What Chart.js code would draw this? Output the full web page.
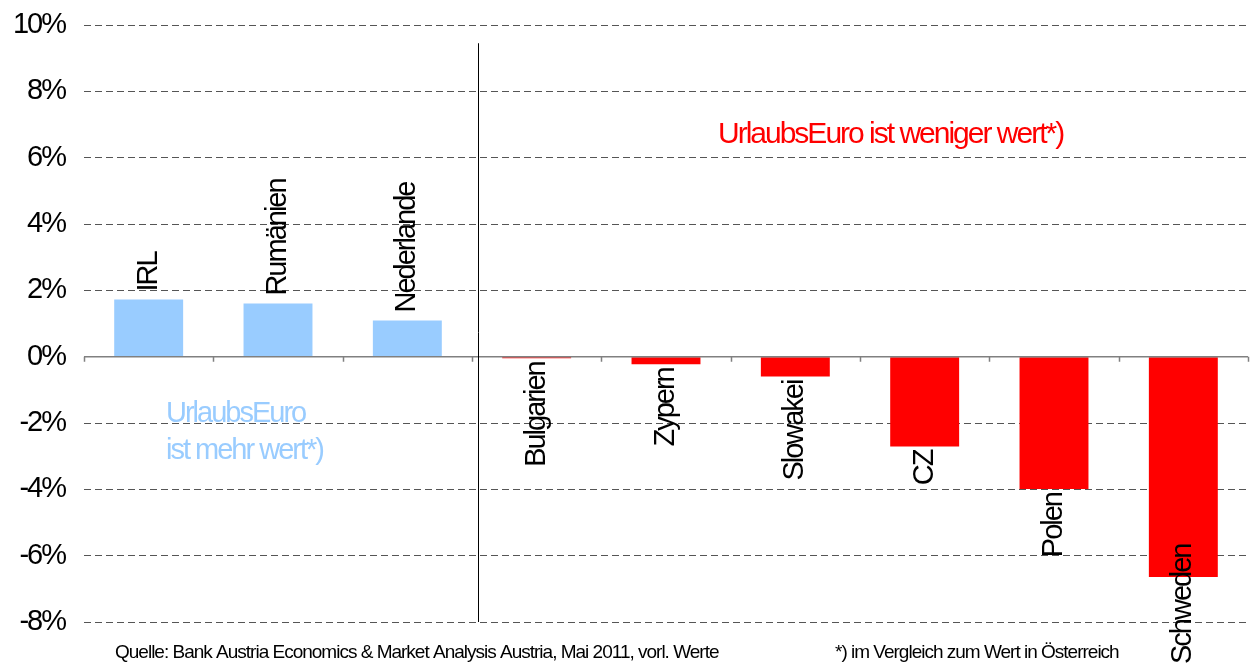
<!DOCTYPE html>
<html>
<head>
<meta charset="utf-8">
<script src="https://cdn.jsdelivr.net/npm/chart.js@4/dist/chart.umd.min.js"></script>
<style>
  body { margin: 0; background: #fff; }
  #chart { display: block; }
</style>
</head>
<body>
<canvas id="chart" width="1257" height="667"></canvas>
<script>
// Wechselkurs-/Preisvergleich UrlaubsEuro, Werte in %
let laender = ['IRL', 'Rumänien', 'Nederlande', 'Bulgarien', 'Zypern', 'Slowakei', 'CZ', 'Polen', 'Schweden']
let werte = [1.72, 1.60, 1.09, -0.05, -0.23, -0.60, -2.71, -3.99, -6.64]
let yMin = -8
let yMax = 10
let yStep = 2

let textMehr = ['UrlaubsEuro', 'ist mehr wert*)']
let textWeniger = 'UrlaubsEuro ist weniger wert*)'
let quelle = 'Quelle: Bank Austria Economics & Market Analysis Austria, Mai 2011, vorl. Werte'
let fussnote = '*) im Vergleich zum Wert in Österreich'

let blau = '#99CCFF'
let rot = '#FF0000'
let schrift = '"Liberation Sans", Arial, sans-serif'

let extras = {
    id: 'extras',
    beforeDraw(chart) {
        chart.ctx.letterSpacing = '-2px'
    },
    afterDatasetsDraw(chart) {
        let ctx = chart.ctx
        let x = chart.scales.x
        let y = chart.scales.y
        let y0 = y.getPixelForValue(0)

        ctx.save()
        // Nulllinie mit Teilstrichen
        ctx.strokeStyle = '#808080'
        ctx.lineWidth = 1.5
        ctx.beginPath()
        ctx.moveTo(chart.chartArea.left, y0)
        ctx.lineTo(chart.chartArea.right, y0)
        for (let i = 0; i <= laender.length; i++) {
            let px = Math.round(x.getPixelForValue(i - 0.5)) + 0.5
            ctx.moveTo(px, y0)
            ctx.lineTo(px, y0 + 5)
        }
        ctx.stroke()

        // Trennlinie
        let tx = Math.round(x.getPixelForValue(2.55)) + 0.5
        ctx.strokeStyle = '#000'
        ctx.lineWidth = 1
        ctx.beginPath()
        ctx.moveTo(tx, y.getPixelForValue(9.45))
        ctx.lineTo(tx, y.getPixelForValue(yMin))
        ctx.stroke()

        // Beschriftung der Balken
        ctx.font = '29px ' + schrift
        ctx.letterSpacing = '-2px'
        ctx.fillStyle = '#000'
        ctx.textBaseline = 'middle'
        let meta = chart.getDatasetMeta(0)
        meta.data.forEach((bar, i) => {
            let w = ctx.measureText(laender[i]).width
            ctx.save()
            if (werte[i] >= 0) {
                ctx.translate(bar.x, bar.y - 8)
                ctx.rotate(-Math.PI / 2)
                ctx.textAlign = 'left'
                ctx.fillText(laender[i], 0, 0)
            } else {
                let oben = bar.y + 4
                if (oben + w > 664) oben = 664 - w
                ctx.translate(bar.x, oben)
                ctx.rotate(-Math.PI / 2)
                ctx.textAlign = 'right'
                ctx.fillText(laender[i], 0, 0)
            }
            ctx.restore()
        })

        // Hinweistexte
        ctx.textAlign = 'left'
        ctx.textBaseline = 'alphabetic'
        ctx.font = '29px ' + schrift
        ctx.fillStyle = blau
        ctx.fillText(textMehr[0], 166, 422)
        ctx.fillText(textMehr[1], 166, 459)
        ctx.font = '30px ' + schrift
        ctx.fillStyle = rot
        ctx.fillText(textWeniger, 718, 143)

        ctx.font = '19px ' + schrift
        ctx.letterSpacing = '-1px'
        ctx.fillStyle = '#000'
        ctx.fillText(quelle, 115, 658)
        ctx.fillText(fussnote, 835, 658)
        ctx.restore()
    }
}

let ctx = document.getElementById('chart').getContext('2d')
let myChart = new Chart(ctx, {
    type: 'bar',
    data: {
        labels: laender,
        datasets: [{
            data: werte,
            backgroundColor: werte.map(v => v >= 0 ? blau : rot),
            borderWidth: 0,
            barPercentage: 0.533,
            categoryPercentage: 1
        }]
    },
    options: {
        responsive: false,
        animation: false,
        layout: {
            padding: { top: 25, bottom: 45, left: 0, right: 9 }
        },
        plugins: {
            legend: { display: false },
            tooltip: { enabled: false }
        },
        scales: {
            x: {
                display: false
            },
            y: {
                min: yMin,
                max: yMax,
                afterFit: s => {
                    s.width = 84
                    s.paddingTop = 0
                    s.paddingBottom = 0
                },
                grid: {
                    color: c => c.tick && c.tick.value === 0 ? 'rgba(0,0,0,0)' : '#555',
                    lineWidth: 1,
                    drawTicks: false
                },
                border: { display: false, dash: [7, 4] },
                ticks: {
                    stepSize: yStep,
                    padding: 19,
                    color: '#000',
                    font: { family: schrift, size: 29 },
                    callback: v => v + '%'
                }
            }
        }
    },
    plugins: [extras]
})
</script>
</body>
</html>
